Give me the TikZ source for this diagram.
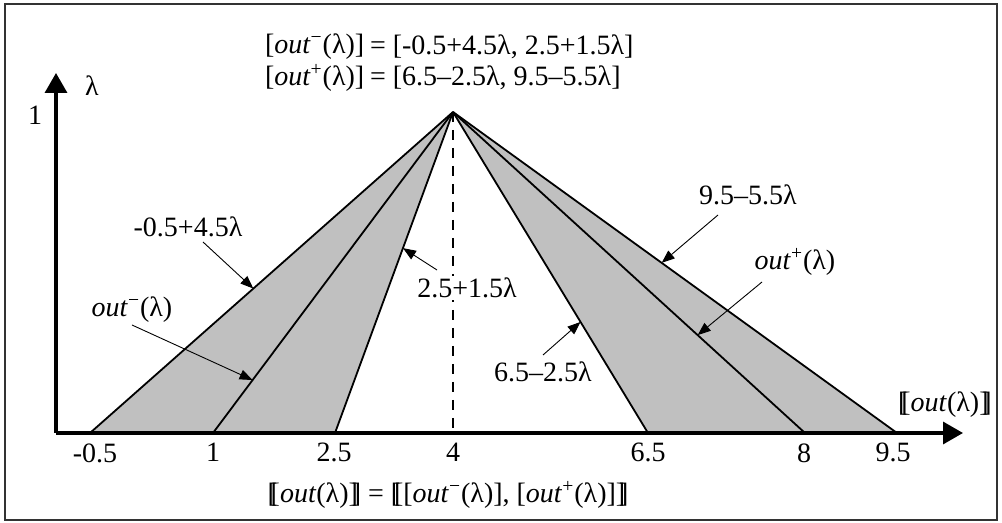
\documentclass[tikz,border=0pt]{standalone}
\usepackage{fontspec}
\setmainfont{Liberation Serif}
\usepackage{xcolor}
\usetikzlibrary{calc,arrows.meta}
\definecolor{bandgray}{HTML}{C0C0C0}
\definecolor{framegray}{HTML}{333333}
\newcommand{\lbb}{[\kern-0.22em[}
\newcommand{\rbb}{]\kern-0.22em]}
\newcommand{\outf}{\textit{out}}
\tikzset{
  framebox/.style  = {draw=framegray, line width=1.3pt},
  axisline/.style  = {line width=1.7pt, -{Triangle[length=10pt,width=11pt]}},
  edgeline/.style  = {line width=0.9pt},
  bandfill/.style  = {fill=bandgray},
  dashline/.style  = {line width=0.9pt, dash pattern=on 5pt off 4pt},
  pointer/.style   = {line width=0.45pt, -{Triangle[length=6.5pt,width=5pt]}},
  lab/.style       = {font=\fontsize{14}{16}\selectfont, inner sep=0pt, outer sep=0pt},
  ticklab/.style   = {font=\fontsize{14}{16}\selectfont, anchor=north, inner sep=0pt},
}
\begin{document}
\begin{tikzpicture}[x=0.5pt,y=-0.5pt]
\path[use as bounding box] (0,0) rectangle (1002,523);
\draw[framebox] (5,4) rectangle (997,520);

% ---- points on the axis and the apex at lambda = 1 ----------------------
\coordinate (apex) at (453,112);
\coordinate (org)  at (56,433);
\foreach \x [count=\i] in {90,213,335,453,648,805,897}
  \coordinate (b\i) at (\x,433);

% ---- the two grey bands -------------------------------------------------
\fill[bandfill] (b1) -- (apex) -- (b3) -- cycle;
\fill[bandfill] (b5) -- (apex) -- (b7) -- cycle;
\draw[dashline] (apex) -- (b4);
\foreach \i in {1,2,3,5,6,7}
  \draw[edgeline] (b\i) -- (apex);

% ---- axes ---------------------------------------------------------------
\coordinate (ytip) at (56,73);
\coordinate (xtip) at (963,433);
\draw[axisline] (org) -- (ytip);
\draw[axisline] (org) -- (xtip);
\node[lab] (ylab) at (92,86) {λ};
\node[lab] (one)  at (35,115) {1};
\node[lab] (xlab) at (945,405) {\lbb\outf(λ)\rbb};

\foreach \x/\v [count=\i] in {95/-0.5,213/1,334/2.5,453/4,648/6.5,804/8,893/9.5}
  \node[ticklab] (tk\i) at (\x,443) {\v};

% ---- the interval formulas ----------------------------------------------
\node[lab, anchor=west] (fl1) at (265,47) {[\outf\textsuperscript{−}(λ)]};
\node[lab, anchor=west] (fr1) at (370,47) {= [-0.5+4.5λ, 2.5+1.5λ]};
\node[lab, anchor=west] (fl2) at (265,78) {[\outf\textsuperscript{+}(λ)]};
\node[lab, anchor=west] (fr2) at (370,78) {= [6.5–2.5λ, 9.5–5.5λ]};
\node[lab] (fbot) at (448,495)
  {\lbb\outf(λ)\rbb{} = \lbb[\outf\textsuperscript{−}(λ)], [\outf\textsuperscript{+}(λ)]\rbb};

% ---- labels with pointers onto the lines --------------------------------
\foreach \name/\pos/\txt/\from/\base/\t in {%
  la/{188,227}/{-0.5+4.5λ}/{203,242}/b1/0.45,
  lb/{132,310}/{\outf\textsuperscript{−}(λ)}/{132,325}/b2/0.165,
  lc/{467,288}/{2.5+1.5λ}/{437,270}/b3/0.576,
  ld/{543,372}/{6.5–2.5λ}/{543,355}/b5/0.346,
  le/{748,195}/{9.5–5.5λ}/{718,215}/b7/0.53,
  lf/{795,262}/{\outf\textsuperscript{+}(λ)}/{762,282}/b6/0.305} {
  \node[lab, fill=white, inner sep=1pt] (\name) at (\pos) {\txt};
  \coordinate (\name s) at (\from);
  \coordinate (\name e) at ($(\base)!\t!(apex)$);
  \draw[pointer] (\name s) -- (\name e);
}

\end{tikzpicture}
\end{document}
